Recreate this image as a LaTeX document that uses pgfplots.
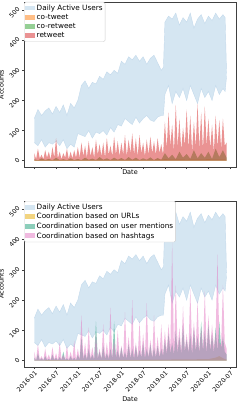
\documentclass[border=0pt]{standalone}
\usepackage{pgfplots}
\pgfplotsset{compat=1.18}
\usepgfplotslibrary{fillbetween}
\usepackage{pgfplotstable}
\usepackage{fontspec}
\setmainfont{DejaVu Sans}

\definecolor{bluec}{RGB}{213,230,242}
\definecolor{bluel}{RGB}{196,218,236}
\definecolor{taborange}{RGB}{255,127,14}
\definecolor{tabgreen}{RGB}{44,160,44}
\definecolor{tabred}{RGB}{214,39,40}
\definecolor{dteal}{RGB}{27,158,119}
\definecolor{dyellow}{RGB}{230,171,2}
\definecolor{tabpink}{RGB}{227,119,194}

% Daily active users (months since 2016-01): daily highs and lows
\pgfplotstableread{
x hi lo
0 140 60
1 170 50
2 150 70
3 165 45
4 175 60
5 155 55
6 180 65
7 160 50
8 185 70
9 150 40
10 190 55
11 175 45
12 200 90
13 250 85
14 265 80
15 240 100
16 260 75
17 255 95
18 280 90
19 270 100
20 295 85
21 285 110
22 300 95
23 290 120
24 330 115
25 320 140
26 345 130
27 335 120
28 350 145
29 330 125
30 345 140
31 320 150
32 340 135
33 350 130
34 325 145
35 300 150
35.6 310 150
36 460 220
37 480 250
38 470 190
39 490 230
40 450 210
41 475 240
42 460 200
43 490 250
44 440 220
45 470 190
46 485 240
47 455 210
48 480 230
49 465 200
50 490 250
51 470 220
52 485 240
52.6 475 230
53 290 280
}\dau

\pgfplotstableread{
x y
0 2
6 3
12 2
18 3
24 3
30 2
36 4
42 3
48 4
53 3
}\cotweet

\pgfplotstableread{
x y
0 5
1 1
2 8
3 2
4 6
5 1
6 10
7 2
8 5
9 1
10 8
11 2
12 6
13 2
14 10
15 3
16 7
17 2
18 12
19 3
20 8
21 2
22 10
23 3
24 9
25 2
26 12
27 3
28 10
29 2
30 8
31 3
32 11
33 2
34 9
35 3
36 25
37 8
38 20
39 5
40 30
41 10
42 22
43 6
44 35
45 8
46 25
47 10
48 30
49 6
50 40
51 12
52 35
53 10
}\coretweet

\pgfplotstableread{
x y
0 25
0.5 5
1 40
1.5 8
2 20
2.5 5
3 35
3.5 10
4 30
4.5 5
5 45
5.5 10
6 75
6.5 8
7 30
7.5 5
8 25
8.5 10
9 40
9.5 5
10 30
10.5 8
11 35
11.5 10
12 45
12.5 10
13 60
13.5 15
14 50
14.5 10
15 65
15.5 15
16 45
16.5 10
17 70
17.5 20
18 55
18.5 15
19 60
19.5 10
20 75
20.5 20
21 50
21.5 15
22 80
22.5 20
23 65
23.5 15
24 60
24.5 20
25 85
25.5 15
26 70
26.5 25
27 90
27.5 20
28 75
28.5 15
29 85
29.5 25
30 60
30.5 15
31 70
31.5 20
32 80
32.5 25
33 65
33.5 20
34 75
34.5 25
35 55
35.5 20
36 130
36.5 40
37 160
37.5 50
38 120
38.5 30
39 185
39.5 45
40 140
40.5 35
41 110
41.5 50
42 170
42.5 40
43 150
43.5 30
44 130
44.5 45
45 190
45.5 40
46 160
46.5 35
47 180
47.5 50
48 140
48.5 40
49 120
49.5 30
50 150
50.5 45
51 135
51.5 40
52 140
52.5 50
53 60
}\retweet

\pgfplotstableread{
x y
0 1
10 2
20 2
30 3
40 4
48 5
50 10
51 15
52 8
53 3
}\urls

\pgfplotstableread{
x y
0 10
0.5 1
1 25
1.5 2
2 8
2.5 1
3 15
3.5 2
4 6
4.5 1
5 20
5.5 2
6 10
6.5 1
7 12
7.5 2
8 30
8.5 2
9 8
9.5 1
10 15
10.5 2
11 10
11.5 1
12 20
12.5 3
13 80
13.5 5
14 25
14.5 4
15 40
15.5 5
16 20
16.5 3
17 130
17.5 6
18 30
18.5 5
19 50
19.5 6
20 25
20.5 5
21 40
21.5 6
22 130
22.5 8
23 35
23.5 6
24 45
24.5 8
25 30
25.5 6
26 55
26.5 8
27 40
27.5 6
28 50
28.5 8
29 35
29.5 10
30 60
30.5 8
31 40
31.5 10
32 55
32.5 8
33 45
33.5 10
34 50
34.5 10
35 40
35.5 15
36 70
36.5 20
37 90
37.5 25
38 60
38.5 20
39 100
39.5 25
40 80
40.5 20
41 120
41.5 30
42 70
42.5 25
43 90
43.5 20
44 110
44.5 30
45 80
45.5 25
46 130
46.5 30
47 100
47.5 25
48 120
48.5 30
49 90
49.5 25
50 110
50.5 30
51 130
51.5 40
52 80
52.5 30
53 20
}\mentions

\pgfplotstableread{
x y
0 30
0.5 2
1 55
1.5 3
2 15
2.5 2
3 40
3.5 5
4 20
4.5 2
5 45
5.5 3
6 25
6.5 2
7 60
7.5 5
8 20
8.5 3
9 50
9.5 2
10 30
10.5 5
11 65
11.5 3
12 40
12.5 5
13 150
13.5 10
14 60
14.5 5
15 110
15.5 8
16 45
16.5 5
17 90
17.5 10
18 40
18.5 6
19 120
19.5 10
20 60
20.5 8
21 175
21.5 10
22 70
22.5 12
23 100
23.5 8
24 50
24.5 10
25 160
25.5 12
26 80
26.5 10
27 200
27.5 15
28 60
28.5 10
29 130
29.5 12
30 90
30.5 15
31 190
31.5 12
32 70
32.5 10
33 150
33.5 15
34 80
34.5 12
35 120
35.5 20
36 100
36.5 30
37 120
37.5 40
38 390
38.5 30
39 250
39.5 40
40 110
40.5 30
41 180
41.5 35
42 90
42.5 30
43 240
43.5 40
44 130
44.5 35
45 200
45.5 30
46 110
46.5 40
47 230
47.5 35
48 150
48.5 40
49 120
49.5 45
50 90
50.5 350
51 60
51.5 50
52 250
52.5 60
53 40
}\hashtags

\pgfplotsset{
  legpatch/.style={legend image code/.code={\path[sharp corners, draw=none, fill, ##1] (0bp,-2.3bp) rectangle (10bp,2.6bp);}},
  mystyle/.style={
    scale only axis, width=212bp,
    xmin=-2.84, xmax=55.6, ymin=-21, ymax=527,
    xtick={0,6,...,54}, ytick={0,100,...,500},
    xtick pos=bottom, ytick pos=left,
    tick align=outside, major tick length=2bp,
    tick style={black!75, line width=0.5bp},
    axis line style={black!75, line width=0.6bp},
    tick label style={font=\fontsize{6.2}{7}\selectfont},
    /pgf/number format/assume math mode=true,
    yticklabel style={rotate=45, anchor=south east, inner sep=1bp},
    ylabel={Accounts}, xlabel={Date},
    label style={font=\fontsize{6.5}{7.5}\selectfont},
    legend style={at={(0,1)}, anchor=north west,
      font=\fontsize{7.3}{8}\selectfont, draw=black!20, fill=white,
      rounded corners=1.5bp, inner sep=0.5bp, row sep=-1.4bp},
    legend cell align=left,
  }
}

\begin{document}
\begin{tikzpicture}
\begin{axis}[mystyle, height=165bp, at={(0,0)}, anchor=south west,
    xticklabels={}, xlabel style={yshift=10bp}]
\addlegendimage{legpatch, fill=bluec}
\addlegendentry{Daily Active Users}
\addlegendimage{legpatch, fill=taborange, fill opacity=0.5}
\addlegendentry{co-tweet}
\addlegendimage{legpatch, fill=tabgreen, fill opacity=0.5}
\addlegendentry{co-retweet}
\addlegendimage{legpatch, fill=tabred, fill opacity=0.5}
\addlegendentry{retweet}
\addplot[name path=hiA, draw=bluel, line width=0.4bp, forget plot] table[x=x, y=hi] {\dau};
\addplot[name path=loA, draw=bluel, line width=0.4bp, forget plot] table[x=x, y=lo] {\dau};
\addplot[bluec, forget plot] fill between[of=hiA and loA];
\addplot[fill=taborange, fill opacity=0.5, draw=none, forget plot] table {\cotweet} \closedcycle;
\addplot[fill=tabgreen, fill opacity=0.5, draw=none, forget plot] table {\coretweet} \closedcycle;
\addplot[fill=tabred, fill opacity=0.5, draw=none, forget plot] table {\retweet} \closedcycle;
\end{axis}

\begin{axis}[mystyle, height=166bp, at={(0,-34bp)}, anchor=north west,
    xticklabels={2016-01,2016-07,2017-01,2017-07,2018-01,2018-07,2019-01,2019-07,2020-01,2020-07},
    xticklabel style={rotate=45, anchor=north east, inner sep=1bp}]
\addlegendimage{legpatch, fill=bluec}
\addlegendentry{Daily Active Users}
\addlegendimage{legpatch, fill=dyellow, fill opacity=0.5}
\addlegendentry{Coordination based on URLs}
\addlegendimage{legpatch, fill=dteal, fill opacity=0.5}
\addlegendentry{Coordination based on user mentions}
\addlegendimage{legpatch, fill=tabpink, fill opacity=0.5}
\addlegendentry{Coordination based on hashtags}
\addplot[name path=hiB, draw=bluel, line width=0.4bp, forget plot] table[x=x, y=hi] {\dau};
\addplot[name path=loB, draw=bluel, line width=0.4bp, forget plot] table[x=x, y=lo] {\dau};
\addplot[bluec, forget plot] fill between[of=hiB and loB];
\addplot[fill=dyellow, fill opacity=0.5, draw=none, forget plot] table {\urls} \closedcycle;
\addplot[fill=dteal, fill opacity=0.5, draw=none, forget plot] table {\mentions} \closedcycle;
\addplot[fill=tabpink, fill opacity=0.5, draw=none, forget plot] table {\hashtags} \closedcycle;
\end{axis}
\pgfresetboundingbox
\path (-24bp,-235bp) rectangle (225bp,167bp);
\end{tikzpicture}
\end{document}
